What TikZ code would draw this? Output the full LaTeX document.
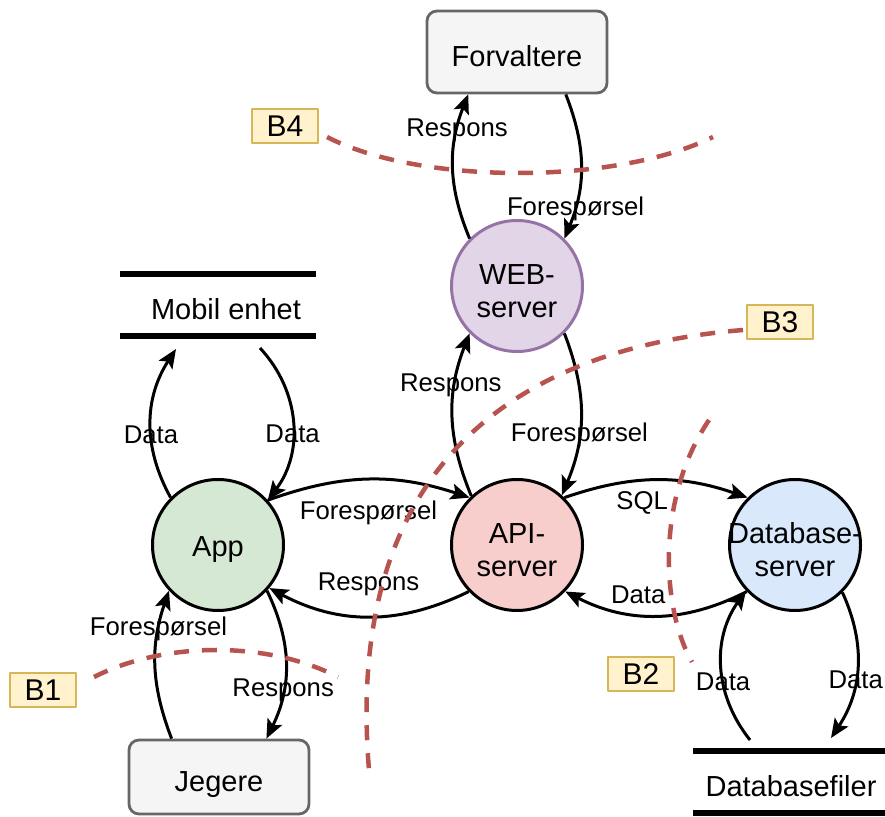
\documentclass[tikz,border=0pt]{standalone}
\usepackage{fontspec}
\setmainfont{Liberation Sans}
\usepackage{xcolor}
\usepackage{tikz}
\usetikzlibrary{arrows.meta}

\definecolor{actorfill}{HTML}{F5F5F5}
\definecolor{actorline}{HTML}{666666}
\definecolor{appfill}{HTML}{D5E8D4}
\definecolor{apifill}{HTML}{F8CECC}
\definecolor{dbfill}{HTML}{DAE8FC}
\definecolor{webfill}{HTML}{E1D5E7}
\definecolor{webline}{HTML}{9673A6}
\definecolor{tagfill}{HTML}{FFF2CC}
\definecolor{tagline}{HTML}{D6B656}
\definecolor{boundred}{HTML}{B85450}

\begin{document}
\begin{tikzpicture}[x=1pt, y=1pt, line join=round,
        >={Stealth[length=19pt,width=16pt,inset=4pt]},
        nfont/.style={font=\fontsize{29}{33}\selectfont},
        lfont/.style={font=\fontsize{25.7}{30}\selectfont},
        proc/.style={circle, draw, line width=3pt, minimum size=131pt, inner sep=0pt},
        ptext/.style={nfont, align=center, yshift=-5pt},
        actor/.style={draw=actorline, fill=actorfill, rounded corners=10pt, line width=2.8pt, minimum width=180pt, nfont, text height=29pt, text depth=0pt},
        store/.style={minimum width=196pt, minimum height=62pt, inner sep=0pt, nfont, text height=29pt, text depth=0pt},
        storeline/.style={line width=6pt},
        tag/.style={draw=tagline, fill=tagfill, line width=1.5pt, minimum width=66pt, minimum height=34pt, inner sep=0pt, font=\fontsize{30}{34}\selectfont},
        bound/.style={draw=boundred, line width=4.5pt, dash pattern=on 15pt off 13pt},
        flow/.style={->, line width=3pt},
        lbl/.style={lfont, inner sep=0pt}]
    \useasboundingbox (0,0) rectangle (885,816);

    % actors and stores
    \node[actor, minimum height=82pt] (forv) at (517,764) {Forvaltere};
    \node[actor, minimum height=74pt] (jeg) at (219,39) {Jegere};
    \node[store] (mob) at (218,511) {\hspace*{16pt}Mobil enhet};
    \node[store] (dbf) at (791,34) {Databasefiler};
    \foreach \s in {mob,dbf} {
        \draw[storeline] (\s.north west) -- (\s.north east);
        \draw[storeline] (\s.south west) -- (\s.south east);
    }
    \coordinate (mobL) at (176,467);
    \coordinate (mobR) at (260,468);
    \coordinate (dbfL) at (750,76);
    \coordinate (dbfR) at (831,78);

    % processes
    \node[proc, draw=webline, fill=webfill, label={[ptext]center:WEB-\\server}] (web) at (517,530) {};
    \node[proc, fill=appfill, label={[ptext]center:App}] (app) at (218,271) {};
    \node[proc, fill=apifill, label={[ptext]center:API-\\server}] (api) at (517,271) {};
    \node[proc, fill=dbfill, label={[ptext]center:Database-\\server}] (db) at (795,271) {};

    % flows
    \draw[flow] (web.135) to[bend left=22] node[lbl, pos=.76] {Respons} (forv.221);
    \draw[flow] (forv.-41.7) to[bend left=22] node[lbl, pos=.78, yshift=-3pt] {Forespørsel} (web.45);
    \draw[flow] (app.135) to[bend left=31] node[lbl, pos=.42] {Data} (mobL);
    \draw[flow] (mobR) to[bend left=40] node[lbl, pos=.57] {Data} (app.42);
    \draw[flow] (app.42) to[bend left=19] node[lbl, yshift=-33pt] {Forespørsel} (api.135);
    \draw[flow] (api.224) to[bend left=27] node[lbl, yshift=32pt] {Respons} (app.-40);
    \draw[flow] (jeg.141) to[bend left=20] node[lbl, pos=.75] {Forespørsel} (app.223);
    \draw[flow] (app.-43) to[bend left=26] node[lbl, pos=.68] {Respons} (jeg.39.4);
    \draw[flow] (api.133) to[bend left=22] node[lbl, pos=.69, xshift=-4pt] {Respons} (web.225);
    \draw[flow] (web.-45) to[bend left=22] node[lbl, pos=.63] {Forespørsel} (api.48);
    \draw[flow] (api.45) to[bend left=19] node[lbl, pos=.42, yshift=-22pt] {SQL} (db.135);
    \draw[flow] (db.224) to[bend left=27] node[lbl, pos=.6, yshift=20pt] {Data} (api.-44);
    \draw[flow] (dbfL) to[bend left=37] node[lbl, pos=.4] {Data} (db.223);
    \draw[flow] (db.-45) to[bend left=29] node[lbl, pos=.59] {Data} (dbfR);

    % trust boundaries
    \foreach \n/\x/\y in {1/43/126, 2/641/142, 3/780/494, 4/285/690}
        \node[tag] (b\n) at (\x,\y) {B\n};
    \draw[bound] (94,139) .. controls (165,175) and (268,175) .. (338,139);
    \draw[bound] (709,396) .. controls (655,316) and (662,206) .. (692,154);
    \draw[bound] (743,486) .. controls (500,466) and (345,336) .. (369,46);
    \draw[bound] (327,679) .. controls (420,631) and (615,631) .. (713,679);
\end{tikzpicture}
\end{document}
